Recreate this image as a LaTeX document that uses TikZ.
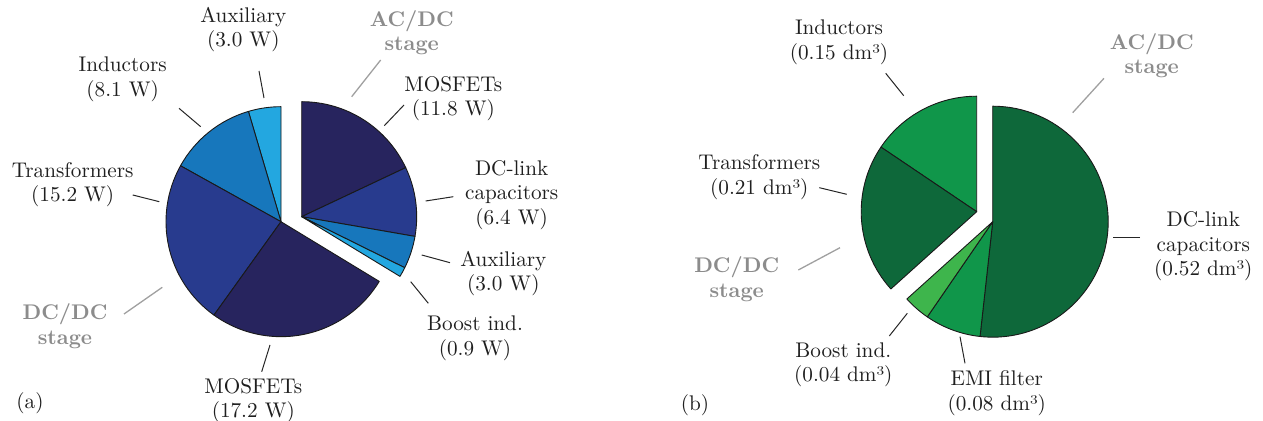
\documentclass[tikz,border=0pt]{standalone}
\usepackage{xcolor}
\definecolor{cnavy}{RGB}{39,36,94}
\definecolor{cblue}{RGB}{40,59,142}
\definecolor{cmid}{RGB}{23,119,188}
\definecolor{clight}{RGB}{35,167,224}
\definecolor{gdark}{RGB}{14,104,58}
\definecolor{gmid}{RGB}{16,150,74}
\definecolor{glight}{RGB}{62,181,76}
\definecolor{stagegray}{RGB}{140,140,140}
\definecolor{leadgray}{RGB}{160,160,160}
\newcommand{\myslice}[5]{\filldraw[slice,fill=#5] (#1) -- ++(#2:#4) arc[start angle=#2, end angle=#3, radius=#4] -- cycle;}
\begin{document}
\begin{tikzpicture}[x=0.5pt,y=0.5pt,
  slice/.style={draw=black!90, line width=0.45pt, line join=round},
  lbl/.style={font=\fontsize{10.6}{12.2}\selectfont, align=center, inner sep=0pt, text=black!88},
  stagelbl/.style={font=\fontsize{10.6}{12.2}\selectfont\bfseries, align=center, inner sep=0pt, text=stagegray},
  lead/.style={draw=black!85, line width=0.5pt},
  glead/.style={draw=leadgray, line width=0.65pt}]
\useasboundingbox (0,0) rectangle (1263,421);
\def\Ra{57.5pt}
\def\Rb{57.75pt}
% ---------------- pie (a) ----------------
\coordinate (Aac) at (301.7,204.3);
\coordinate (Adc) at (281,199.3);
\myslice{Aac}{90}{25.244}{\Ra}{cnavy}
\myslice{Aac}{25.244}{-9.878}{\Ra}{cblue}
\myslice{Aac}{-9.878}{-26.341}{\Ra}{cmid}
\myslice{Aac}{-26.341}{-31.28}{\Ra}{clight}
\myslice{Adc}{90}{106.463}{\Ra}{clight}
\myslice{Adc}{106.463}{150.914}{\Ra}{cmid}
\myslice{Adc}{150.914}{234.329}{\Ra}{cblue}
\myslice{Adc}{234.329}{328.72}{\Ra}{cnavy}
% labels (a)
\node[lbl] (aAux) at (243.3,391.5) {Auxiliary\\(3.0 W)};
\node[lbl] (aInd) at (122.7,341.8) {Inductors\\(8.1 W)};
\node[lbl] (aTr) at (72.7,236.5) {Transformers\\(15.2 W)};
\node[stagelbl] (aDC) at (65,94.7) {DC/DC\\stage};
\node[lbl] (aMosB) at (253.3,20.2) {MOSFETs\\(17.2 W)};
\node[lbl] (aTag) at (30,18) {(a)};
\node[stagelbl] (aAC) at (411.7,388.2) {AC/DC\\stage};
\node[lbl] (aMosA) at (453.3,322.2) {MOSFETs\\(11.8 W)};
\node[lbl] (aCap) at (511.7,226.2) {DC-link\\capacitors\\(6.4 W)};
\node[lbl] (aAux2) at (503.3,147.2) {Auxiliary\\(3.0 W)};
\node[lbl] (aBoost) at (475,82.7) {Boost ind.\\(0.9 W)};
% leaders (a)
\coordinate (a1s) at (259,350);   \coordinate (a1e) at (264,323);
\coordinate (a2s) at (179,312.7); \coordinate (a2e) at (200.7,294.3);
\coordinate (a3s) at (132.7,226); \coordinate (a3e) at (159.3,219.3);
\coordinate (a4s) at (124,107);   \coordinate (a4e) at (162.3,133.7);
\coordinate (a5s) at (261.7,49.3);\coordinate (a5e) at (270,76);
\coordinate (a6s) at (380.7,361); \coordinate (a6e) at (351.7,324.3);
\coordinate (a7s) at (404,316);   \coordinate (a7e) at (384.3,295.3);
\coordinate (a8s) at (453.3,224.3);\coordinate (a8e) at (425.7,220);
\coordinate (a9s) at (450,158.3); \coordinate (a9e) at (421.7,166);
\coordinate (a10s) at (428.3,117.7);\coordinate (a10e) at (410.7,139.3);
\draw[lead] (a1s) -- (a1e);
\draw[lead] (a2s) -- (a2e);
\draw[lead] (a3s) -- (a3e);
\draw[glead] (a4s) -- (a4e);
\draw[lead] (a5s) -- (a5e);
\draw[glead] (a6s) -- (a6e);
\draw[lead] (a7s) -- (a7e);
\draw[lead] (a8s) -- (a8e);
\draw[lead] (a9s) -- (a9e);
\draw[lead] (a10s) -- (a10e);
% ---------------- pie (b) ----------------
\coordinate (Bac) at (992.7,199.3);
\coordinate (Bdc) at (976.7,209.3);
\myslice{Bac}{90}{-96.3}{\Rb}{gdark}
\myslice{Bac}{-96.3}{-124.5}{\Rb}{gmid}
\myslice{Bac}{-124.5}{-138}{\Rb}{glight}
\myslice{Bdc}{90}{146}{\Rb}{gmid}
\myslice{Bdc}{146}{222}{\Rb}{gdark}
% labels (b)
\node[lbl] (bInd) at (839,378.5) {Inductors\\(0.15 dm³)};
\node[stagelbl] (bAC) at (1151.7,365.2) {AC/DC\\stage};
\node[lbl] (bTr) at (759.3,243.8) {Transformers\\(0.21 dm³)};
\node[stagelbl] (bDC) at (736.7,141.8) {DC/DC\\stage};
\node[lbl] (bCap) at (1203.3,174.7) {DC-link\\capacitors\\(0.52 dm³)};
\node[lbl] (bBoost) at (843.3,56) {Boost ind.\\(0.04 dm³)};
\node[lbl] (bEmi) at (996.7,28) {EMI filter\\(0.08 dm³)};
\node[lbl] (bTag) at (695,16) {(b)};
% leaders (b)
\coordinate (b1s) at (885.7,347.7); \coordinate (b1e) at (903.7,325.3);
\coordinate (b2s) at (1104,342.7);  \coordinate (b2e) at (1072.7,308.3);
\coordinate (b3s) at (819.3,233.3); \coordinate (b3e) at (846.7,226.7);
\coordinate (b4s) at (798.3,151);   \coordinate (b4e) at (840,173.3);
\coordinate (b5s) at (1140,183.7);  \coordinate (b5e) at (1113.3,183.7);
\coordinate (b6s) at (889.3,85);    \coordinate (b6e) at (907.3,107.7);
\coordinate (b7s) at (965,57.7);    \coordinate (b7e) at (960,84.3);
\draw[lead] (b1s) -- (b1e);
\draw[glead] (b2s) -- (b2e);
\draw[lead] (b3s) -- (b3e);
\draw[glead] (b4s) -- (b4e);
\draw[lead] (b5s) -- (b5e);
\draw[lead] (b6s) -- (b6e);
\draw[lead] (b7s) -- (b7e);
\end{tikzpicture}
\end{document}
